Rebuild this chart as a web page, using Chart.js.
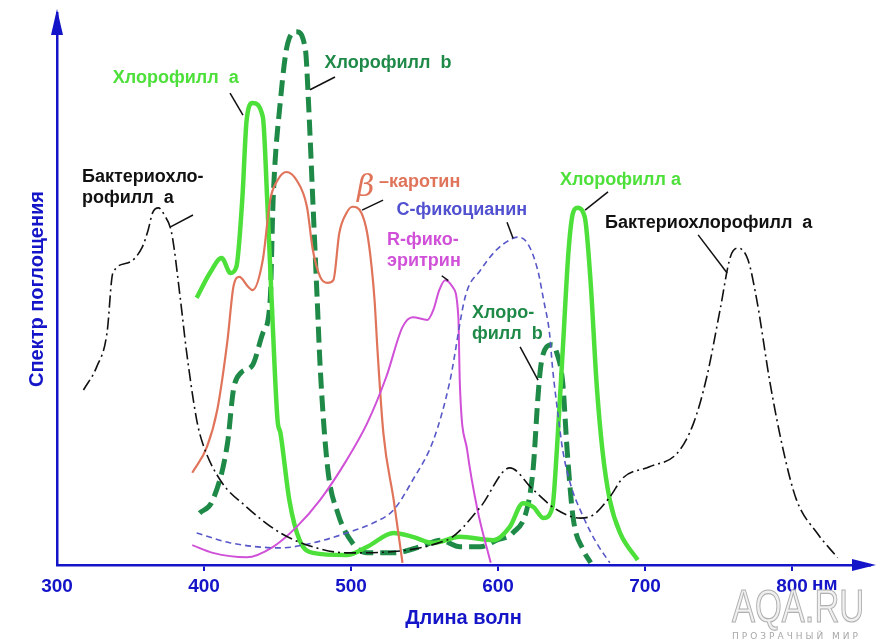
<!DOCTYPE html>
<html>
<head>
<meta charset="utf-8">
<script src="https://cdn.jsdelivr.net/npm/chart.js@4.4.0/dist/chart.umd.min.js"></script>
<style>
  html, body { margin: 0; padding: 0; background: #fff; }
  #wrap { width: 888px; height: 642px; }
</style>
</head>
<body>
<div id="wrap"><canvas id="spectra" width="888" height="642"></canvas></div>
<script>
// подписи оси X (нм)
var tickNm = [300, 400, 500, 600, 700, 800];

// Бактериохлорофилл а
var bchlNm  = [318, 327, 334, 338, 348, 358, 362, 365, 369, 373, 378, 384, 388, 395, 399, 411, 429, 452, 474, 497, 565, 588, 608, 624, 640, 656, 665, 676, 685, 703, 722, 733, 742, 751, 758, 763, 770, 776, 785, 794, 803, 817, 831];
var bchlAbs = [31.7, 35.9, 42.0, 52.9, 54.7, 57.6, 60.7, 63.8, 64.7, 63.4, 60.1, 48.0, 38.9, 26.3, 22.1, 15.4, 10.5, 5.8, 3.3, 2.2, 4.5, 10.5, 17.6, 13.6, 10.0, 8.5, 9.1, 12.3, 15.8, 17.8, 20.3, 25.7, 34.1, 46.2, 55.8, 57.4, 55.3, 48.0, 33.0, 20.8, 11.8, 5.8, 1.3];

// Хлорофилл а
var chlaNm  = [395, 404, 412, 418, 422, 426, 429, 433, 440, 443, 446, 450, 452, 458, 465, 474, 497, 511, 529, 542, 556, 574, 597, 608, 617, 624, 631, 637, 640, 644, 648, 651, 654, 659, 663, 667, 671, 676, 683, 695];
var chlaAbs = [48.4, 52.9, 55.6, 52.9, 54.0, 66.1, 80.6, 83.7, 81.2, 66.1, 48.0, 26.3, 23.9, 11.8, 4.5, 2.2, 1.8, 3.3, 5.8, 5.1, 4.0, 5.1, 4.5, 6.9, 11.2, 10.5, 8.5, 10.5, 20.8, 38.9, 57.1, 63.8, 64.7, 63.0, 51.1, 33.0, 20.8, 11.8, 5.8, 0.9];

// Хлорофилл b
var chlbNm  = [397, 406, 416, 420, 425, 433, 440, 445, 447, 452, 457, 463, 469, 471, 474, 477, 479, 484, 491, 501, 511, 529, 547, 561, 574, 588, 599, 610, 620, 624, 627, 629, 633, 637, 640, 644, 647, 651, 658, 663];
var chlbAbs = [9.4, 11.8, 22.1, 31.7, 34.8, 36.2, 42.0, 48.0, 66.1, 84.2, 94.6, 96.6, 93.3, 84.2, 66.1, 48.0, 35.9, 17.8, 9.4, 4.0, 2.2, 2.2, 3.3, 4.5, 3.3, 3.3, 4.5, 5.8, 10.5, 17.8, 29.9, 35.9, 39.5, 39.9, 38.4, 33.0, 20.8, 8.7, 2.7, 0.4];

// β-каротин
var carNm  = [392, 402, 409, 416, 420, 424, 430, 433, 440, 445, 450, 456, 463, 470, 474, 479, 484, 488, 492, 497, 501, 507, 511, 514, 516, 518, 522, 529, 535];
var carAbs = [16.7, 21.4, 28.1, 40.8, 50.4, 52.2, 50.4, 49.8, 55.3, 66.1, 69.7, 71.2, 69.7, 64.9, 57.1, 52.2, 51.1, 51.6, 60.1, 63.8, 64.9, 63.8, 60.1, 54.0, 48.0, 38.9, 23.9, 11.8, 0.4];

// R-фикоэритрин
var rpeNm  = [392, 406, 429, 447, 463, 479, 497, 511, 524, 535, 542, 552, 556, 560, 564, 569, 573, 574, 579, 586, 595];
var rpeAbs = [3.6, 2.2, 1.4, 3.3, 6.9, 11.8, 19.0, 25.7, 34.1, 43.1, 44.9, 44.4, 46.2, 49.8, 51.6, 50.4, 44.9, 33.0, 20.8, 10.0, 0.4];

// С-фикоцианин
var cpcNm  = [395, 418, 452, 474, 497, 515, 529, 542, 556, 567, 578, 588, 599, 608, 613, 620, 627, 631, 635, 637, 641, 644, 649, 658, 667, 676];
var cpcAbs = [5.8, 4.0, 3.1, 4.0, 5.8, 7.6, 10.0, 15.4, 22.6, 33.0, 48.9, 53.4, 57.1, 58.9, 59.4, 58.3, 53.4, 48.0, 42.0, 35.9, 26.8, 20.8, 14.9, 8.7, 4.0, 0.4];

var blue = '#1414c8';
var cChlA = '#4ee03a';
var cChlB = '#1f8a48';
var cCar = '#e0745a';
var cRpe = '#d050d8';
var cCpc = '#5858c8';

// подписи кривых: текст, место (нм, поглощение), выноска
var notes = [
  { lines: ['Хлорофилл  а'], nm: 338, abs: 88.2, color: cChlA, lead: [417.7, 85.5, 426.5, 81.5] },
  { lines: ['Хлорофилл  b'], nm: 482, abs: 90.9, color: cChlB, lead: [489.1, 88.4, 472.1, 86.1] },
  { lines: ['Бактериохло-', 'рофилл  а'], nm: 317, abs: 70.3, color: '#111', lead: [392.5, 63.4, 376.9, 61.2] },
  { lines: ['–каротин'], nm: 519, abs: 69.4, color: cCar, lead: [521.8, 66.1, 507.5, 64.3] },
  { lines: ['С-фикоцианин'], nm: 531, abs: 64.3, color: '#5050d0', lead: [606.1, 62.1, 610.2, 59.2] },
  { lines: ['R-фико-', 'эритрин'], nm: 524.5, abs: 58.9, color: cRpe, lead: [561.7, 52.4, 566.2, 51.5] },
  { lines: ['Хлоро-', 'филл  b'], nm: 582.3, abs: 45.7, color: cChlB, lead: [615, 39.5, 627.2, 33.5] },
  { lines: ['Хлорофилл а'], nm: 642.2, abs: 69.7, color: cChlA, lead: [674.8, 67.6, 659.2, 64.3] },
  { lines: ['Бактериохлорофилл  а'], nm: 672.8, abs: 62.0, color: '#111', lead: [736.1, 59.8, 755.8, 52.9] }
];

function pts(xs, ys) {
  return xs.map(function(x, i) { return { x: x, y: ys[i] }; });
}

var decor = {
  id: 'decor',
  afterDraw: function(chart) {
    var ctx = chart.ctx;
    var xs = chart.scales.x, ys = chart.scales.y;
    var area = chart.chartArea;
    ctx.save();

    // стрелки осей
    ctx.fillStyle = blue;
    ctx.beginPath();
    ctx.moveTo(area.left, area.top - 4);
    ctx.lineTo(area.left - 6, area.top + 22);
    ctx.lineTo(area.left + 6, area.top + 22);
    ctx.closePath();
    ctx.fill();
    ctx.beginPath();
    ctx.moveTo(area.right + 6, area.bottom);
    ctx.lineTo(area.right - 18, area.bottom - 6);
    ctx.lineTo(area.right - 18, area.bottom + 6);
    ctx.closePath();
    ctx.fill();

    // "нм" после 800
    ctx.font = 'bold 19px "Liberation Sans", Arial, sans-serif';
    ctx.textBaseline = 'middle';
    ctx.textAlign = 'left';
    ctx.fillText('нм', xs.getPixelForValue(800) + 20, area.bottom + 20);

    // подписи и выноски
    notes.forEach(function(n) {
      var x0 = xs.getPixelForValue(n.nm), y0 = ys.getPixelForValue(n.abs);
      ctx.fillStyle = n.color;
      ctx.font = 'bold 18px "Liberation Sans", Arial, sans-serif';
      n.lines.forEach(function(t, i) {
        ctx.fillText(t, x0, y0 + i * 21);
      });
      ctx.strokeStyle = '#111';
      ctx.lineWidth = 1.5;
      ctx.beginPath();
      ctx.moveTo(xs.getPixelForValue(n.lead[0]), ys.getPixelForValue(n.lead[1]));
      ctx.lineTo(xs.getPixelForValue(n.lead[2]), ys.getPixelForValue(n.lead[3]));
      ctx.stroke();
    });
    // буква β
    ctx.fillStyle = cCar;
    ctx.font = 'italic 30px "DejaVu Serif", serif';
    ctx.fillText('β', xs.getPixelForValue(504), ys.getPixelForValue(68.3));

    // водяной знак
    ctx.save();
    ctx.translate(732, 622);
    ctx.scale(0.75, 1);
    ctx.font = '46px "Liberation Sans", Arial, sans-serif';
    ctx.textAlign = 'left';
    ctx.textBaseline = 'alphabetic';
    ctx.fillStyle = '#f0f0f0';
    ctx.strokeStyle = '#b0b0b0';
    ctx.lineWidth = 1.2;
    ctx.fillText('AQA.RU', 0, 0);
    ctx.strokeText('AQA.RU', 0, 0);
    ctx.restore();
    ctx.font = '9px "DejaVu Sans", sans-serif';
    ctx.fillStyle = '#a8a8a8';
    ctx.letterSpacing = '3px';
    ctx.fillText('ПРОЗРАЧНЫЙ МИР', 732, 637);
    ctx.restore();
  }
};

var ctx = document.getElementById('spectra').getContext('2d');
var chart = new Chart(ctx, {
  type: 'line',
  data: {
    datasets: [
      { label: 'Бактериохлорофилл а', data: pts(bchlNm, bchlAbs), borderColor: '#111', borderWidth: 1.6, borderDash: [12, 4, 2, 4] },
      { label: 'С-фикоцианин', data: pts(cpcNm, cpcAbs), borderColor: cCpc, borderWidth: 1.6, borderDash: [6, 4] },
      { label: 'R-фикоэритрин', data: pts(rpeNm, rpeAbs), borderColor: cRpe, borderWidth: 2 },
      { label: 'β-каротин', data: pts(carNm, carAbs), borderColor: cCar, borderWidth: 2.2 },
      { label: 'Хлорофилл а', data: pts(chlaNm, chlaAbs), borderColor: cChlA, borderWidth: 4.5 },
      { label: 'Хлорофилл b', data: pts(chlbNm, chlbAbs), borderColor: cChlB, borderWidth: 5, borderDash: [16, 7] }
    ]
  },
  options: {
    responsive: false,
    animation: false,
    elements: {
      point: { radius: 0 },
      line: { cubicInterpolationMode: 'monotone', fill: false }
    },
    layout: { padding: { top: 13, right: 18, left: 0, bottom: 0 } },
    scales: {
      x: {
        type: 'linear',
        min: 300,
        max: 853,
        afterBuildTicks: function(s) { s.ticks = tickNm.map(function(v) { return { value: v }; }); },
        afterFit: function(s) { s.height = 77; },
        grid: {
          drawOnChartArea: false,
          tickLength: 6,
          lineWidth: 2,
          color: function(c) { return c.tick && c.tick.value === 300 ? 'rgba(0,0,0,0)' : blue; }
        },
        border: { color: blue, width: 2.5 },
        ticks: {
          color: blue,
          padding: 4,
          font: { family: '"Liberation Sans", Arial, sans-serif', size: 19, weight: 'bold' },
          callback: function(v) { return String(v); }
        },
        title: {
          display: true,
          text: 'Длина волн',
          color: blue,
          font: { family: '"Liberation Sans", Arial, sans-serif', size: 20, weight: 'bold' },
          padding: { top: 0, bottom: 12 }
        }
      },
      y: {
        min: 0,
        max: 100,
        afterFit: function(s) { s.width = 57; },
        grid: { display: false },
        ticks: { display: false },
        border: { color: blue, width: 2.5 },
        title: {
          display: true,
          text: 'Спектр поглощения',
          color: blue,
          font: { family: '"Liberation Sans", Arial, sans-serif', size: 20, weight: 'bold' },
          padding: { top: 25, bottom: 0 }
        }
      }
    },
    plugins: {
      legend: { display: false },
      tooltip: { enabled: false }
    }
  },
  plugins: [decor]
});
</script>
</body>
</html>
